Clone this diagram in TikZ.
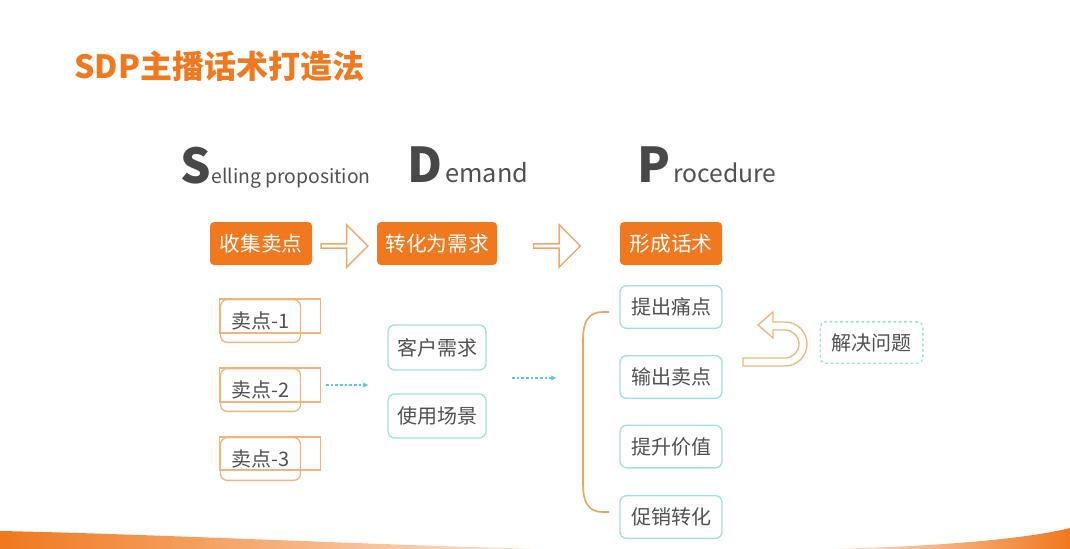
\documentclass[tikz,border=0pt]{standalone}
\usepackage{fontspec}
\setmainfont{Noto Sans CJK SC}
\usetikzlibrary{shapes.arrows,arrows.meta}
\definecolor{sdporange}{RGB}{240,120,30}
\definecolor{sdplight}{RGB}{240,180,125}
\definecolor{sdpcyan}{RGB}{160,225,218}
\definecolor{sdpdot}{RGB}{90,205,210}
\definecolor{sdpgray}{RGB}{80,80,80}
\tikzset{
  obox/.style={fill=sdporange, rounded corners=3pt, text=white, font=\fontsize{15.5}{15.5}\selectfont,
    minimum height=32.25pt, inner sep=0pt},
  cbox/.style={draw=sdpcyan, line width=1pt, rounded corners=5pt, text=sdpgray,
    font=\fontsize{15}{15}\selectfont, minimum width=76.5pt, minimum height=32pt, inner sep=0pt},
  sbox/.style={draw=sdplight, line width=1pt, rounded corners=5pt, text=sdpgray,
    font=\fontsize{15}{15}\selectfont, minimum width=60pt, minimum height=32pt, inner sep=0pt},
  sline/.style={draw=sdplight, line width=0.8pt},
  hollow/.style={single arrow, draw=sdplight!80!sdporange, line width=1.1pt, fill=white,
    minimum height=35pt, minimum width=32pt, single arrow head extend=5pt, inner sep=0pt},
  dotline/.style={sdpdot, line width=1pt, dash pattern=on 2pt off 1.5pt, -{Stealth[length=4pt,width=4pt]}},
  big/.style={text=sdpgray!90!black, font=\fontsize{36}{36}\selectfont\bfseries, inner sep=0pt, anchor=base west},
  small/.style={text=sdpgray, inner sep=0pt, anchor=base west}
}
\begin{document}
\begin{tikzpicture}[x=0.75pt,y=-0.75pt]
  \useasboundingbox (0,0) rectangle (1070,549);
  % title
  \node[anchor=west, inner sep=0pt, text=sdporange, font=\fontsize{24}{24}\selectfont\bfseries] (title) at (74,66) {SDP主播话术打造法};
  % headings
  \node[big] (S) at (180,184) {S};
  \node[small, font=\fontsize{14.5}{14.5}\selectfont] (Stxt) at (S.base east) {elling proposition};
  \node[big] (D) at (407,182) {D};
  \node[small, font=\fontsize{19}{19}\selectfont] (Dtxt) at ([xshift=2pt]D.base east) {emand};
  \node[big] (P) at (637,182) {P};
  \node[small, font=\fontsize{18.5}{18.5}\selectfont] (Ptxt) at ([xshift=2pt]P.base east) {rocedure};
  % steps
  \node[obox, minimum width=76.5pt] (collect) at (261,243.5) {收集卖点};
  \node[obox, minimum width=90pt] (convert) at (437,243.5) {转化为需求};
  \node[obox, minimum width=76.5pt] (form) at (671,243.5) {形成话术};
  \node[hollow] (arr1) at (343.5,246) {};
  \node[hollow] (arr2) at (556,246) {};
  % selling points
  \node[sbox] (sp1) at (260.5,321) {卖点-1};
  \node[sbox] (sp2) at (260.5,390) {卖点-2};
  \node[sbox] (sp3) at (260.5,459) {卖点-3};
  \draw[sline] (sp1.north west) rectangle ++(101,34);
  \draw[sline] (sp2.north west) rectangle ++(101,34);
  \draw[sline] (sp3.north west) rectangle ++(101,33);
  % demands
  \node[cbox, minimum width=73.5pt, minimum height=33.75pt] (need) at (437,347.5) {客户需求};
  \node[cbox, minimum width=73.5pt, minimum height=33pt] (scene) at (437,416) {使用场景};
  \coordinate (d1a) at (326,385);
  \coordinate (d1b) at (368,385);
  \coordinate (d2a) at (512,378);
  \coordinate (d2b) at (556,378);
  \draw[dotline] (d1a) -- (d1b);
  \draw[dotline] (d2a) -- (d2b);
  % procedure
  \node[cbox] (pain) at (671,307) {提出痛点};
  \node[cbox] (sell) at (671,377) {输出卖点};
  \node[cbox] (value) at (671,446.5) {提升价值};
  \node[cbox] (promo) at (671,517) {促销转化};
  \coordinate (brtop) at (609,312);
  \coordinate (brbot) at (609,512);
  \draw[sdplight!70!sdporange, line width=1.2pt] (brtop) -- (603,312)
    .. controls (588,312) and (583,322) .. (583,340) -- (583,484)
    .. controls (583,502) and (588,512) .. (603,512) -- (brbot);
  % u-turn arrow
  \draw[sdplight, line width=1pt, fill=white] (758,325) -- (773,312) -- (773,322) -- (785,322)
    arc[start angle=-90, end angle=90, radius=22] -- (743,366) -- (743,358) -- (785,358)
    arc[start angle=90, end angle=-90, radius=14] -- (773,330) -- (773,338) -- cycle;
  \node[draw=sdpcyan, line width=1pt, dash pattern=on 2pt off 2pt, rounded corners=4pt, text=sdpgray,
    font=\fontsize{15}{15}\selectfont, minimum width=77pt, minimum height=31pt, inner sep=0pt] (solve) at (871.5,342.5) {解决问题};
  % bottom band
  \shade[left color=sdporange, right color=sdporange!20] (0,531) .. controls (150,534) and (350,544) .. (540,549) -- (0,549) -- cycle;
  \shade[left color=sdporange!20, right color=sdporange] (830,549) .. controls (950,546) and (1030,538) .. (1070,528) -- (1070,549) -- cycle;
\end{tikzpicture}
\end{document}
